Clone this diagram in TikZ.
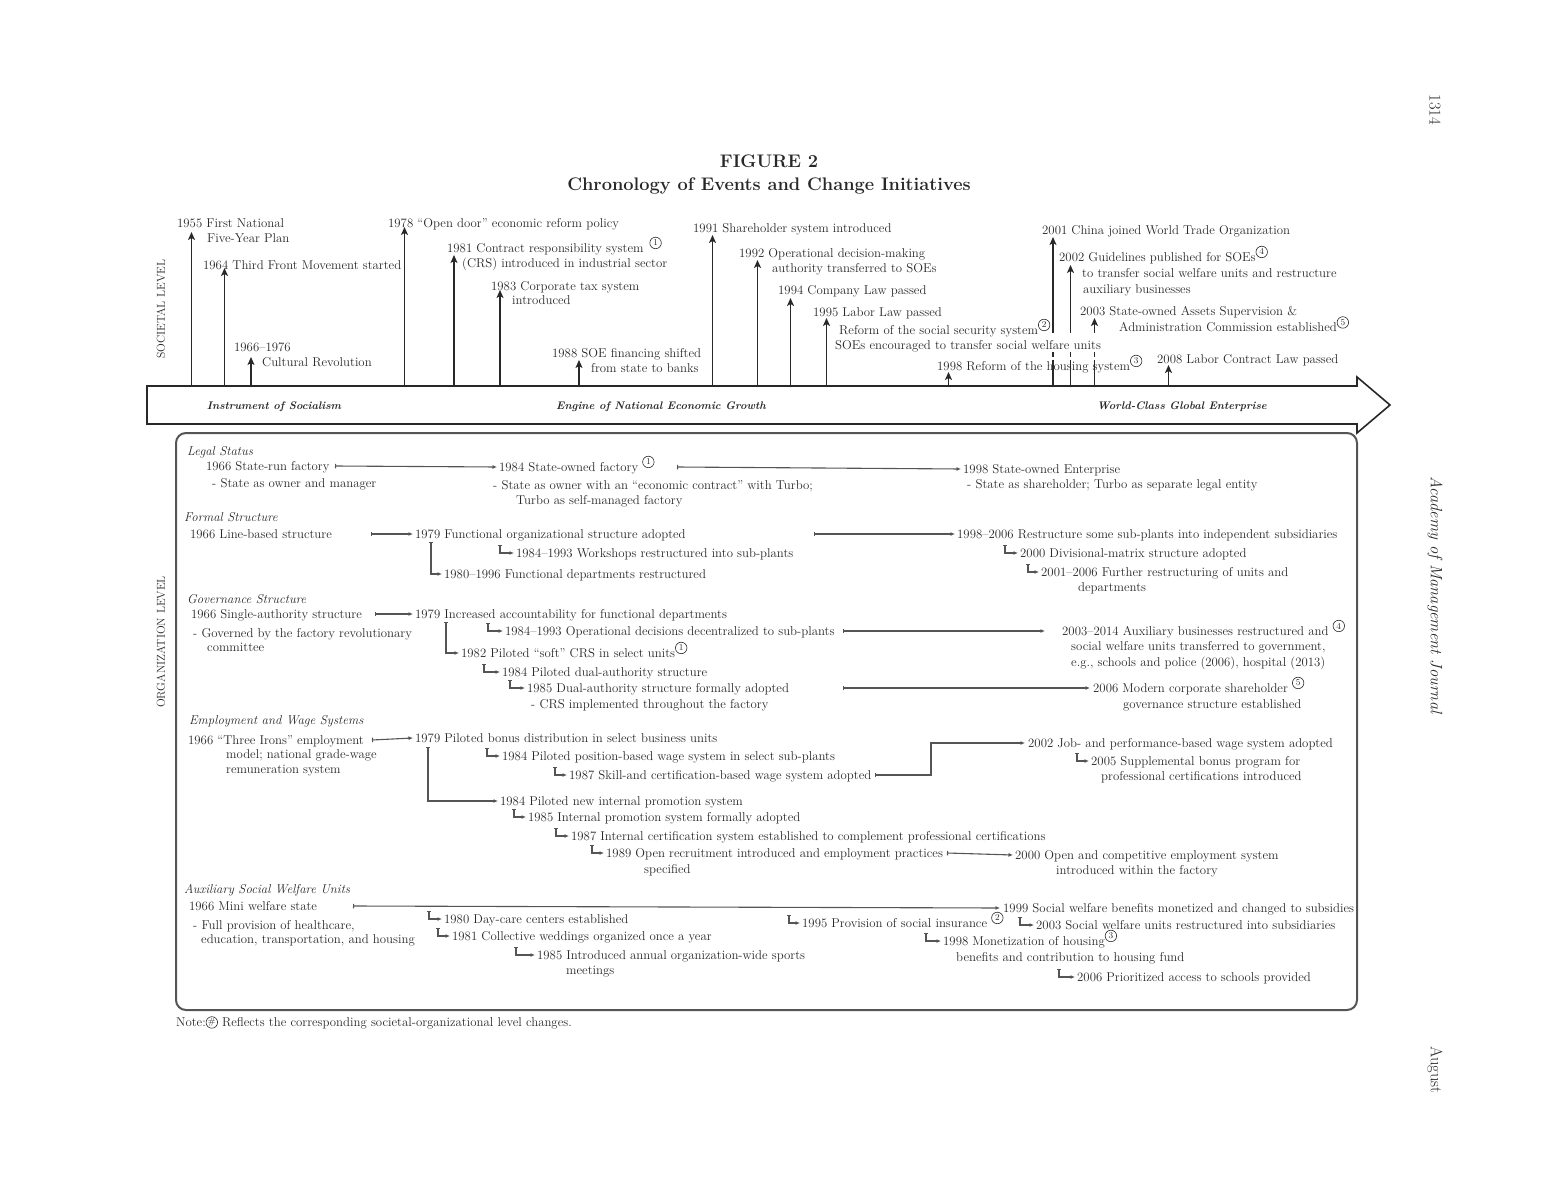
\documentclass[tikz,border=0pt]{standalone}
\usepackage{tikz}
\usetikzlibrary{arrows.meta, calc}
\definecolor{InkGray}{RGB}{40, 40, 40}
\definecolor{LineGray}{RGB}{85, 85, 85}
\newcommand{\evfont}{\fontsize{12.8}{15.5}\selectfont\lineskiplimit=-20pt}
\newcommand{\cnum}[2][3pt]{\smash{\raisebox{#1}{\tikz\node[draw=InkGray, circle, line width=0.6pt, minimum size=11.5pt, inner sep=0pt, font=\fontsize{9}{9}\selectfont]{#2};}}}
\newcommand{\hookto}[2][15]{\draw[hookarrow] ([xshift=-#1pt,yshift=12pt]#2.base west) |- ([xshift=-2pt,yshift=4pt]#2.base west);}

\begin{document}
\begin{tikzpicture}[x=1pt, y=-1pt,
    evtext/.style={anchor=base west, inner sep=0pt, font=\evfont, text=InkGray},
    header/.style={evtext, font=\evfont\itshape},
    evarrow/.style={draw=InkGray, line width=1.7pt, -{Stealth[length=8pt, width=7pt, inset=2pt]}},
    flow/.style={draw=LineGray, line width=1.1pt, {Bar[width=4.5pt]}-{Latex[length=4.5pt, width=4pt]}},
    hookarrow/.style={flow},
    phase/.style={font=\fontsize{11}{13}\selectfont\bfseries\itshape, text=InkGray},
    level/.style={font=\fontsize{11.5}{13}\selectfont, text=InkGray, rotate=90},
    margin/.style={font=\fontsize{16.5}{18}\selectfont, text=InkGray, rotate=-90}]
    \useasboundingbox (0,0) rectangle (1548,1188);

    % Title
    \node[font=\fontsize{18.2}{21}\selectfont\bfseries, text=InkGray] (fig) at (769,161) {FIGURE 2};
    \node[font=\fontsize{18.2}{21}\selectfont\bfseries, text=InkGray] (ttl) at (769,186) {Chronology of Events and Change Initiatives};

    % Page margin
    \node[margin] (pg) at (1435,110) {1314};
    \node[margin, font=\fontsize{16.5}{18}\selectfont\itshape] (jn) at (1435,595) {Academy of Management Journal};
    \node[margin] (mo) at (1435,1070) {August};

    % Level labels
    \node[level] (soc) at (161,309) {SOCIETAL LEVEL};
    \node[level] (org) at (161,642) {ORGANIZATION LEVEL};

    % Societal events
    \node[evtext] (s55) at (177,227) {\vtop{\hbox{1955 First National}\hbox{\hspace*{30pt}Five-Year Plan}}};
    \node[evtext] (s64) at (203,269) {1964 Third Front Movement started};
    \node[evtext] (s66) at (234,351) {\vtop{\hbox{1966--1976}\hbox{\hspace*{28pt}Cultural Revolution}}};
    \node[evtext] (s78) at (388,227) {1978 ``Open door'' economic reform policy};
    \node[evtext] (s81) at (447,252) {\vtop{\hbox{1981 Contract responsibility system\hspace{6pt}\cnum{1}}\hbox{\hspace*{15pt}(CRS) introduced in industrial sector}}};
    \node[evtext] (s83) at (491,290) {\vtop{\hbox{1983 Corporate tax system}\vskip-1pt\hbox{\hspace*{21pt}introduced}}};
    \node[evtext] (s88) at (552,357) {\vtop{\hbox{1988 SOE financing shifted}\hbox{\hspace*{39pt}from state to banks}}};
    \node[evtext] (s91) at (693,233) {1991 Shareholder system introduced};
    \node[evtext] (s92) at (739,257) {\vtop{\hbox{1992 Operational decision-making}\hbox{\hspace*{33pt}authority transferred to SOEs}}};
    \node[evtext] (s94) at (778,294) {1994 Company Law passed};
    \node[evtext] (s95) at (813,316) {1995 Labor Law passed};
    \node[evtext] (s95r) at (835,334) {\vtop{\hbox{\hspace*{4pt}Reform of the social security system\cnum{2}}\hbox{SOEs encouraged to transfer social welfare units}}};
    \node[evtext] (s98) at (937,370) {1998 Reform of the housing system\cnum{3}};
    \node[evtext] (s01) at (1042,234) {2001 China joined World Trade Organization};
    \node[evtext] (s02) at (1059,261) {\vtop{\hbox{2002 Guidelines published for SOEs\cnum{4}}\vskip0.5pt\hbox{\hspace*{23pt}to transfer social welfare units and restructure}\vskip0.5pt\hbox{\hspace*{24pt}auxiliary businesses}}};
    \node[evtext] (s03) at (1080,315) {\vtop{\hbox{2003 State-owned Assets Supervision \&}\vskip1pt\hbox{\hspace*{39pt}Administration Commission established\cnum{5}}}};
    \node[evtext] (s08) at (1157,363) {2008 Labor Contract Law passed};

    % Societal arrows
    \draw[evarrow] (191.5,386) -- (191.5,232);
    \draw[evarrow] (224.5,386) -- (224.5,268);
    \draw[evarrow] (251,386) -- (251,357);
    \draw[evarrow] (404.5,386) -- (404.5,227);
    \draw[evarrow] (454,386) -- (454,255);
    \draw[evarrow] (500,386) -- (500,290);
    \draw[evarrow] (579,386) -- (579,360);
    \draw[evarrow] (712.5,386) -- (712.5,235);
    \draw[evarrow] (757.5,386) -- (757.5,260);
    \draw[evarrow] (790.5,386) -- (790.5,298);
    \draw[evarrow] (826.5,386) -- (826.5,318);
    \draw[evarrow] (948.5,386) -- (948.5,372);
    \draw[evarrow, dash pattern=on 26pt off 3pt on 5pt off 19pt on 300pt] (1053,386) -- (1053,237);
    \draw[evarrow, dash pattern=on 26pt off 3pt on 5pt off 19pt on 300pt] (1070.5,386) -- (1070.5,265);
    \draw[evarrow, dash pattern=on 26pt off 3pt on 5pt off 19pt on 300pt] (1094.5,386) -- (1094.5,318);
    \draw[evarrow] (1168.5,386) -- (1168.5,365);

    % Timeline band
    \draw[draw=InkGray, line width=1.6pt] (147,386) -- (1357,386) -- (1357,377) -- (1390,405) -- (1357,433) -- (1357,424) -- (147,424) -- cycle;
    \node[phase] (ph1) at (274,407) {Instrument of Socialism};
    \node[phase] (ph2) at (661,407) {Engine of National Economic Growth};
    \node[phase] (ph3) at (1182,407) {World-Class Global Enterprise};

    % Organization box
    \draw[draw=LineGray, line width=2pt, rounded corners=10pt] (176,433) rectangle (1357,1010);

    % Legal status
    \node[header] (hls) at (187,455) {Legal Status};
    \node[evtext] (l66) at (206,470) {1966 State-run factory};
    \node[evtext] (l66d) at (212,487) {- State as owner and manager};
    \node[evtext] (l84) at (499,471) {1984 State-owned factory \cnum{1}};
    \node[evtext] (l84d) at (493,489) {\vtop{\hbox{- State as owner with an ``economic contract'' with Turbo;}\hbox{\hspace*{23pt}Turbo as self-managed factory}}};
    \node[evtext] (l98) at (963,473) {1998 State-owned Enterprise};
    \node[evtext] (l98d) at (967,488) {- State as shareholder; Turbo as separate legal entity};
    \draw[flow] ([xshift=129pt,yshift=4pt]l66.base west) -- ([xshift=-2pt,yshift=4pt]l84.base west);
    \draw[flow] ([xshift=178pt,yshift=4pt]l84.base west) -- ([xshift=-2pt,yshift=4pt]l98.base west);

    % Formal structure
    \node[header] (hfs) at (184,521) {Formal Structure};
    \node[evtext] (f66) at (190,538) {1966 Line-based structure};
    \node[evtext] (f79) at (415,538) {1979 Functional organizational structure adopted};
    \node[evtext] (f84) at (516,557) {1984--1993 Workshops restructured into sub-plants};
    \node[evtext] (f80) at (444,578) {1980--1996 Functional departments restructured};
    \node[evtext] (f98) at (957,538) {1998--2006 Restructure some sub-plants into independent subsidiaries};
    \node[evtext] (f00) at (1020,557) {2000 Divisional-matrix structure adopted};
    \node[evtext] (f01) at (1041,576) {\vtop{\hbox{2001--2006 Further restructuring of units and}\hbox{\hspace*{37pt}departments}}};
    \draw[flow] ([xshift=181pt,yshift=4pt]f66.base west) -- ([xshift=-2pt,yshift=4pt]f79.base west);
    \draw[flow] ([xshift=399pt,yshift=4pt]f79.base west) -- ([xshift=-2pt,yshift=4pt]f98.base west);
    \draw[flow] ([xshift=16pt,yshift=-4pt]f79.base west) |- ([xshift=-2pt,yshift=4pt]f80.base west);
    \hookto[16]{f84}
    \hookto{f00}
    \hookto[13]{f01}

    % Governance structure
    \node[header] (hgs) at (187,603) {Governance Structure};
    \node[evtext] (g66) at (191,618) {1966 Single-authority structure};
    \node[evtext] (g66d) at (193,637) {\vtop{\hbox{- Governed by the factory revolutionary}\vskip-1.5pt\hbox{\hspace*{14pt}committee}}};
    \node[evtext] (g79) at (415,618) {1979 Increased accountability for functional departments};
    \node[evtext] (g84) at (505,635) {1984--1993 Operational decisions decentralized to sub-plants};
    \node[evtext] (g03) at (1062,635) {\vtop{\hbox{2003--2014 Auxiliary businesses restructured and \cnum{4}}\hbox{\hspace*{9pt}social welfare units transferred to government,}\hbox{\hspace*{9pt}e.g., schools and police (2006), hospital (2013)}}};
    \node[evtext] (g82) at (461,657) {1982 Piloted ``soft'' CRS in select units\cnum{1}};
    \node[evtext] (g84b) at (502,676) {1984 Piloted dual-authority structure};
    \node[evtext] (g85) at (527,692) {1985 Dual-authority structure formally adopted};
    \node[evtext] (g85d) at (531,708) {- CRS implemented throughout the factory};
    \node[evtext] (g06) at (1093,692) {\vtop{\hbox{2006 Modern corporate shareholder \cnum{5}}\vskip0.5pt\hbox{\hspace*{30pt}governance structure established}}};
    \draw[flow] ([xshift=184pt,yshift=4pt]g66.base west) -- ([xshift=-2pt,yshift=4pt]g79.base west);
    \draw[flow] ([xshift=31pt,yshift=-4pt]g79.base west) |- ([xshift=-2pt,yshift=4pt]g82.base west);
    \draw[flow] ([xshift=338pt,yshift=4pt]g84.base west) -- ([xshift=-17pt,yshift=4pt]g03.base west);
    \draw[flow] ([xshift=316pt,yshift=4pt]g85.base west) -- ([xshift=-3pt,yshift=4pt]g06.base west);
    \hookto[17]{g84}
    \hookto[18]{g84b}
    \hookto[17]{g85}

    % Employment and wage systems
    \node[header] (hew) at (189,724) {Employment and Wage Systems};
    \node[evtext] (e66) at (188,744) {1966 ``Three Irons'' employment};
    \node[evtext] (e66d) at (226,758) {\vtop{\hbox{model; national grade-wage}\vskip-0.5pt\hbox{remuneration system}}};
    \node[evtext] (e79) at (415,742) {1979 Piloted bonus distribution in select business units};
    \node[evtext] (e84) at (502,760) {1984 Piloted position-based wage system in select sub-plants};
    \node[evtext] (e87) at (569,779) {1987 Skill-and certification-based wage system adopted};
    \node[evtext] (e02) at (1028,747) {2002 Job- and performance-based wage system adopted};
    \node[evtext] (e05) at (1091,765) {\vtop{\hbox{2005 Supplemental bonus program for}\vskip-0.5pt\hbox{\hspace*{10pt}professional certifications introduced}}};
    \node[evtext] (e84b) at (500,805) {1984 Piloted new internal promotion system};
    \node[evtext] (e85) at (528,821) {1985 Internal promotion system formally adopted};
    \node[evtext] (e87b) at (571,840) {1987 Internal certification system established to complement professional certifications};
    \node[evtext] (e89) at (606,857) {\vtop{\hbox{1989 Open recruitment introduced and employment practices}\vskip0.5pt\hbox{\hspace*{38pt}specified}}};
    \node[evtext] (e00) at (1015,859) {\vtop{\hbox{2000 Open and competitive employment system}\vskip-0.5pt\hbox{\hspace*{41pt}introduced within the factory}}};
    \draw[flow] ([xshift=184pt,yshift=4pt]e66.base west) -- ([xshift=-2pt,yshift=4pt]e79.base west);
    \draw[flow] ([xshift=13pt,yshift=-5pt]e79.base west) |- ([xshift=-2pt,yshift=4pt]e84b.base west);
    \draw[flow] ([xshift=306pt,yshift=4pt]e87.base west) -- ([xshift=362pt,yshift=4pt]e87.base west) |- ([xshift=-3pt,yshift=4pt]e02.base west);
    \draw[flow] ([xshift=341pt,yshift=4pt]e89.base west) -- ([xshift=-2pt,yshift=4pt]e00.base west);
    \hookto{e84}
    \hookto[14]{e87}
    \hookto[14]{e05}
    \hookto[14]{e85}
    \hookto{e87b}
    \hookto[14]{e89}

    % Auxiliary social welfare units
    \node[header] (has) at (184,893) {Auxiliary Social Welfare Units};
    \node[evtext] (a66) at (189,910) {1966 Mini welfare state};
    \node[evtext] (a66d) at (193,929) {\vtop{\hbox{- Full provision of healthcare,}\vskip-1.5pt\hbox{\hspace*{8pt}education, transportation, and housing}}};
    \node[evtext] (a99) at (1003,912) {1999 Social welfare benefits monetized and changed to subsidies};
    \node[evtext] (a80) at (444,923) {1980 Day-care centers established};
    \node[evtext] (a81) at (452,940) {1981 Collective weddings organized once a year};
    \node[evtext] (a85) at (537,959) {\vtop{\hbox{1985 Introduced annual organization-wide sports}\vskip-0.5pt\hbox{\hspace*{29pt}meetings}}};
    \node[evtext] (a95) at (802,927) {1995 Provision of social insurance \cnum{2}};
    \node[evtext] (a03) at (1036,929) {2003 Social welfare units restructured into subsidiaries};
    \node[evtext] (a98) at (943,945) {\vtop{\hbox{1998 Monetization of housing\cnum{3}}\vskip0.5pt\hbox{\hspace*{13pt}benefits and contribution to housing fund}}};
    \node[evtext] (a06) at (1077,981) {2006 Prioritized access to schools provided};
    \draw[flow] ([xshift=164pt,yshift=4pt]a66.base west) -- ([xshift=-3pt,yshift=4pt]a99.base west);
    \hookto{a80}
    \hookto[14]{a81}
    \hookto[21]{a85}
    \hookto[13]{a95}
    \hookto[16]{a03}
    \hookto[17]{a98}
    \hookto[18]{a06}

    % Note
    \node[evtext] (note) at (176,1026) {Note:\cnum[-2.5pt]{\#} Reflects the corresponding societal-organizational level changes.};
\end{tikzpicture}
\end{document}
